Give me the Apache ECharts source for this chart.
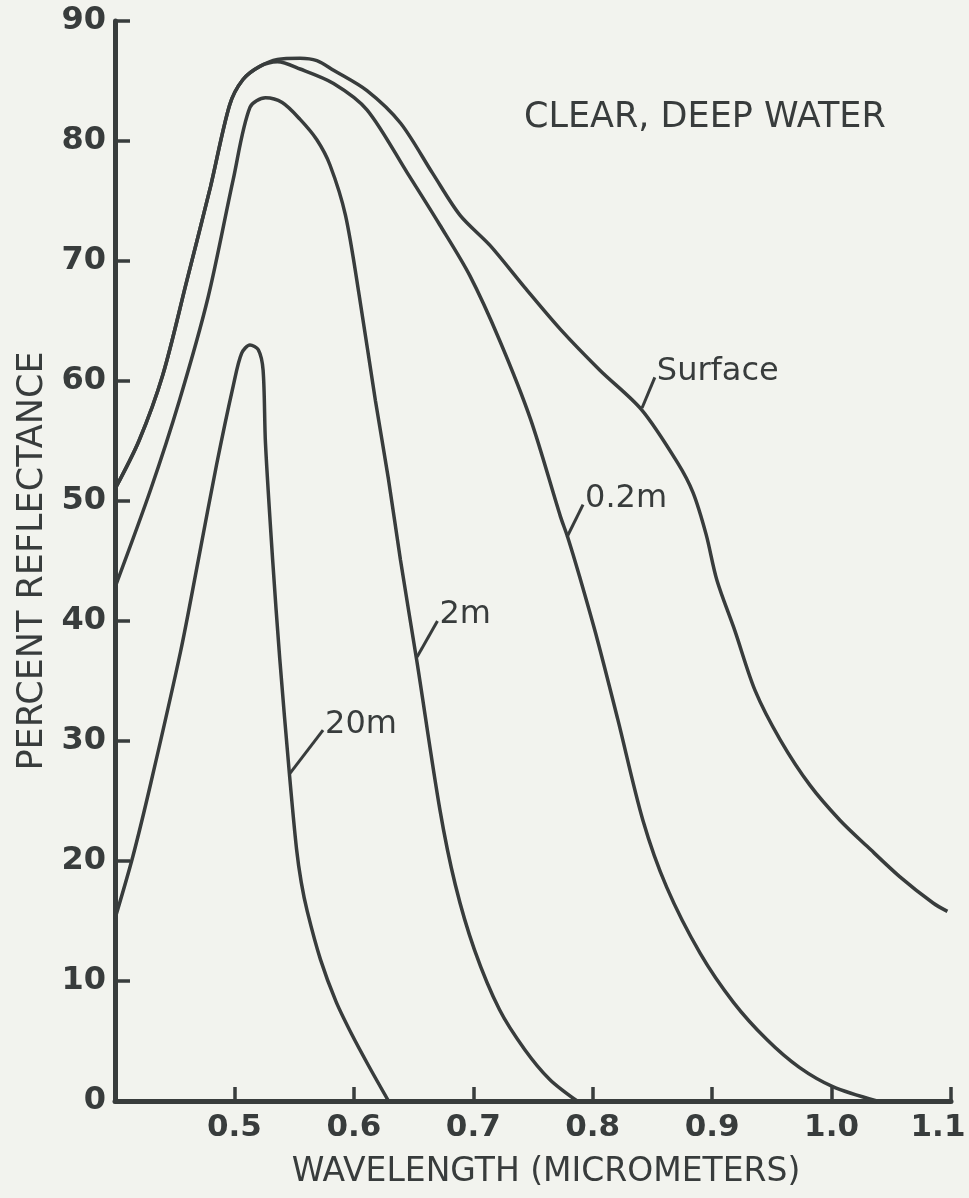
<!DOCTYPE html>
<html><head><meta charset="utf-8">
<script src="https://cdn.jsdelivr.net/npm/echarts@6/dist/echarts.min.js"></script>
<style>html,body{margin:0;padding:0;background:#f2f3ee;overflow:hidden;}#chart{width:969px;height:1198px;}</style>
</head><body><div id="chart"></div>
<script>
// ---- data ----
const xTickLabels = ['', '0.5', '0.6', '0.7', '0.8', '0.9', '1.0', '1.1'];
const yTickLabels = ['0', '10', '20', '30', '40', '50', '60', '70', '80', '90'];
const titleText = 'CLEAR, DEEP WATER';
const xName = 'WAVELENGTH (MICROMETERS)';
const yName = 'PERCENT REFLECTANCE';

const surface = [
  [0.400,51.0],[0.420,55.0],[0.440,60.5],[0.460,68.3],[0.480,76.2],[0.496,83.0],[0.507,85.1],[0.521,86.2],
  [0.536,86.8],[0.555,86.9],[0.569,86.7],[0.583,85.9],[0.611,84.2],[0.639,81.5],[0.666,77.3],
  [0.689,73.8],[0.714,71.3],[0.743,67.8],[0.773,64.3],[0.806,60.9],[0.841,57.6],[0.871,53.2],
  [0.884,50.7],[0.895,47.2],[0.904,43.4],[0.919,39.2],[0.936,34.2],[0.957,30.1],[0.982,26.3],
  [1.007,23.4],[1.030,21.2],[1.057,18.7],[1.085,16.5],[1.097,15.8]
];
const m02 = [
  [0.400,51.0],[0.420,55.0],[0.440,60.5],[0.460,68.3],[0.480,76.2],[0.496,83.0],[0.507,85.1],[0.521,86.2],
  [0.536,86.6],[0.555,86.0],[0.583,84.8],[0.611,82.6],[0.645,77.3],[0.672,73.0],[0.697,68.8],
  [0.722,63.4],[0.748,56.8],[0.773,48.7],[0.779,47.0],[0.789,43.7],[0.804,38.4],[0.821,31.8],
  [0.842,23.4],[0.862,17.8],[0.890,12.3],[0.918,8.2],[0.946,5.1],[0.973,2.8],[1.001,1.2],[1.038,0]
];
const m2 = [
  [0.400,42.8],[0.430,51.0],[0.454,58.4],[0.478,67.0],[0.499,76.8],[0.513,82.8],[0.526,83.6],[0.540,83.2],[0.555,81.8],
  [0.569,80.1],[0.580,78.0],[0.593,73.8],[0.605,66.8],[0.618,58.4],[0.629,51.8],[0.639,45.1],
  [0.653,36.5],[0.672,24.3],[0.685,18.0],[0.701,12.6],[0.722,7.6],[0.743,4.3],[0.764,1.8],[0.787,0]
];
const m20 = [
  [0.400,15.2],[0.415,20.4],[0.430,26.5],[0.455,37.5],[0.470,45.2],[0.485,53.0],[0.499,59.6],
  [0.506,62.3],[0.513,63.0],[0.520,62.6],[0.524,60.9],[0.526,54.8],[0.532,45.1],[0.538,36.8],
  [0.546,27.3],[0.552,21.0],[0.556,18.2],[0.561,15.8],[0.572,11.8],[0.585,8.3],[0.598,5.6],
  [0.612,3.0],[0.629,0]
];
// curve labels: point on curve -> end of leader where text starts
const labelNames = ['Surface', '0.2m', '2m', '20m'];
const labelFrom = [[0.8413,57.75],[0.7785,47.0],[0.6529,37.0],[0.5465,27.3]];
const labelTo   = [[0.8520,60.3],[0.7919,49.7],[0.6700,40.0],[0.5742,30.9]];

// ---- chart ----
const INK = '#383c3c';
const FONT = 'DejaVu Sans';
const chart = echarts.init(document.getElementById('chart'), null, {renderer: 'canvas'});

const curves = [surface, m02, m2, m20].map(d => ({
  type: 'line', data: d, showSymbol: false, symbol: 'none',
  smooth: 0.3,
  lineStyle: {color: INK, width: 3.5}, silent: true, z: 3
}));
const leaders = labelNames.map((n, i) => ({
  type: 'line', name: n, data: [labelFrom[i], labelTo[i]], showSymbol: false, symbol: 'none',
  lineStyle: {color: INK, width: 3}, silent: true, z: 4,
  endLabel: {show: true, formatter: n, color: INK, fontFamily: FONT, fontSize: 32,
             distance: 2, offset: [0, -6]}
}));

chart.setOption({
  animation: false,
  backgroundColor: '#f2f3ee',
  title: {text: titleText, left: 519, top: 95,
          textStyle: {color: INK, fontFamily: FONT, fontSize: 35, fontWeight: 'normal'}},
  grid: {left: 115, right: 18, top: 21, bottom: 97, containLabel: false, outerBoundsMode: 'none'},
  xAxis: {
    type: 'value', min: 0.4, max: 1.1, interval: 0.1,
    name: xName, nameLocation: 'middle', nameGap: 55,
    nameTextStyle: {color: INK, fontFamily: FONT, fontSize: 33, padding: [0, 0, 0, 26]},
    axisLine: {show: true, lineStyle: {color: INK, width: 5}},
    axisTick: {show: true, inside: true, length: 14, lineStyle: {color: INK, width: 3.5}},
    splitLine: {show: false},
    axisLabel: {color: INK, fontFamily: FONT, fontSize: 31, fontWeight: 'bold', margin: 11,
      formatter: v => {
        const i = Math.round((v - 0.4) / 0.1);
        const t = xTickLabels[i] || '';
        return i === xTickLabels.length - 1 ? '{last|' + t + '}' : t;
      },
      rich: {last: {color: INK, fontFamily: FONT, fontSize: 31, fontWeight: 'bold', padding: [0, 26, 0, 0]}}
    }
  },
  yAxis: {
    type: 'value', min: 0, max: 90, interval: 10,
    name: yName, nameLocation: 'middle', nameGap: 64,
    nameTextStyle: {color: INK, fontFamily: FONT, fontSize: 35},
    axisLine: {show: true, lineStyle: {color: INK, width: 5}},
    axisTick: {show: true, inside: true, length: 15, lineStyle: {color: INK, width: 3.5}},
    splitLine: {show: false},
    axisLabel: {color: INK, fontFamily: FONT, fontSize: 32, fontWeight: 'bold', margin: 9,
      formatter: v => yTickLabels[Math.round(v / 10)] || ''}
  },
  series: curves.concat(leaders)
});
</script></body></html>
